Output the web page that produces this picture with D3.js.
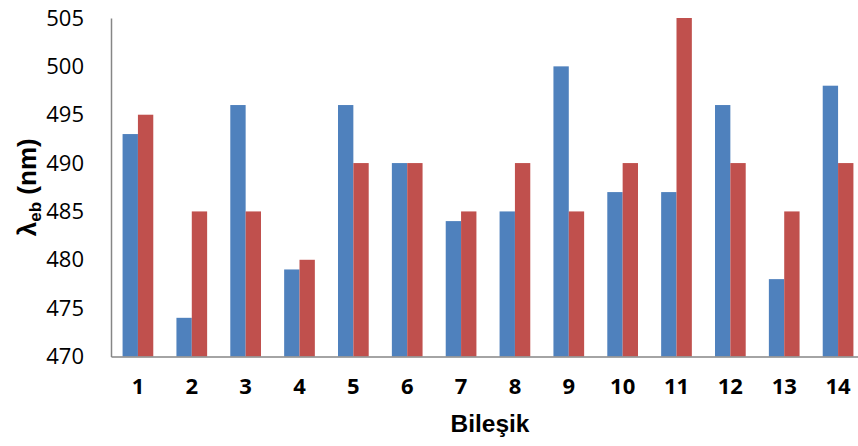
<!DOCTYPE html>
<html><head><meta charset="utf-8">
<script src="https://cdn.jsdelivr.net/npm/d3@7"></script>
<style>body{margin:0;background:#fff}svg{display:block}</style>
</head><body>
<script>
const categories = ["1","2","3","4","5","6","7","8","9","10","11","12","13","14"];
const seriesA = [493,474,496,479,496,490,484,485,500,487,487,496,478,498];
const seriesB = [495,485,485,480,490,490,485,490,485,490,505,490,485,490];
const yTicks = [470,475,480,485,490,495,500,505];
const colors = ["#4F81BD","#C0504D"];

const W=858,H=446;
const m={l:111,t:18,r:-7,b:89.5};
const svg=d3.select("body").append("svg").attr("width",W).attr("height",H);
const x=d3.scaleBand().domain(categories).range([m.l,W-m.r]).paddingInner(0.43).paddingOuter(0.215);
const y=d3.scaleLinear().domain([470,505]).range([H-m.b,m.t]);
const xs=d3.scaleBand().domain([0,1]).range([0,x.bandwidth()]);

const data=categories.map((c,i)=>({c,v:[seriesA[i],seriesB[i]]}));
const g=svg.append("g");
g.selectAll("g.grp").data(data).join("g").attr("transform",d=>`translate(${x(d.c)},0)`)
 .selectAll("rect").data(d=>d.v.map((v,j)=>({v,j}))).join("rect")
 .attr("x",d=>xs(d.j)).attr("width",xs.bandwidth())
 .attr("y",d=>y(d.v)).attr("height",d=>y(470)-y(d.v))
 .attr("fill",d=>colors[d.j]);

const ya=svg.append("g").attr("transform",`translate(${m.l},0)`)
 .call(d3.axisLeft(y).tickValues(yTicks).tickSize(0).tickPadding(27));
ya.select(".domain").attr("stroke","#868686").attr("stroke-width",1.5);
ya.selectAll("text").attr("font-family","Open Sans, sans-serif").attr("font-size",22).attr("fill","#000");

const xa=svg.append("g").attr("transform",`translate(0,${H-m.b})`)
 .call(d3.axisBottom(x).tickSize(0).tickPadding(22));
xa.select(".domain").attr("stroke","#868686").attr("stroke-width",1.5);
xa.selectAll("text").attr("font-family","Open Sans, sans-serif").attr("font-weight","bold").attr("font-size",22).attr("fill","#000");

svg.append("text").attr("x",490).attr("y",432).attr("text-anchor","middle")
 .attr("font-family","Liberation Sans, Arial, sans-serif").attr("font-weight","bold").attr("font-size",24.5).text("Bileşik");

const yt=svg.append("text").attr("transform",`translate(36,${(m.t+H-m.b)/2}) rotate(-90)`).attr("text-anchor","middle")
 .attr("font-family","Liberation Sans, Arial, sans-serif").attr("font-weight","bold").attr("font-size",26);
yt.append("tspan").text("λ");
yt.append("tspan").attr("font-size",17).attr("dy",5).text("eb");
yt.append("tspan").attr("dy",-5).text(" (nm)");
</script>
</body></html>
